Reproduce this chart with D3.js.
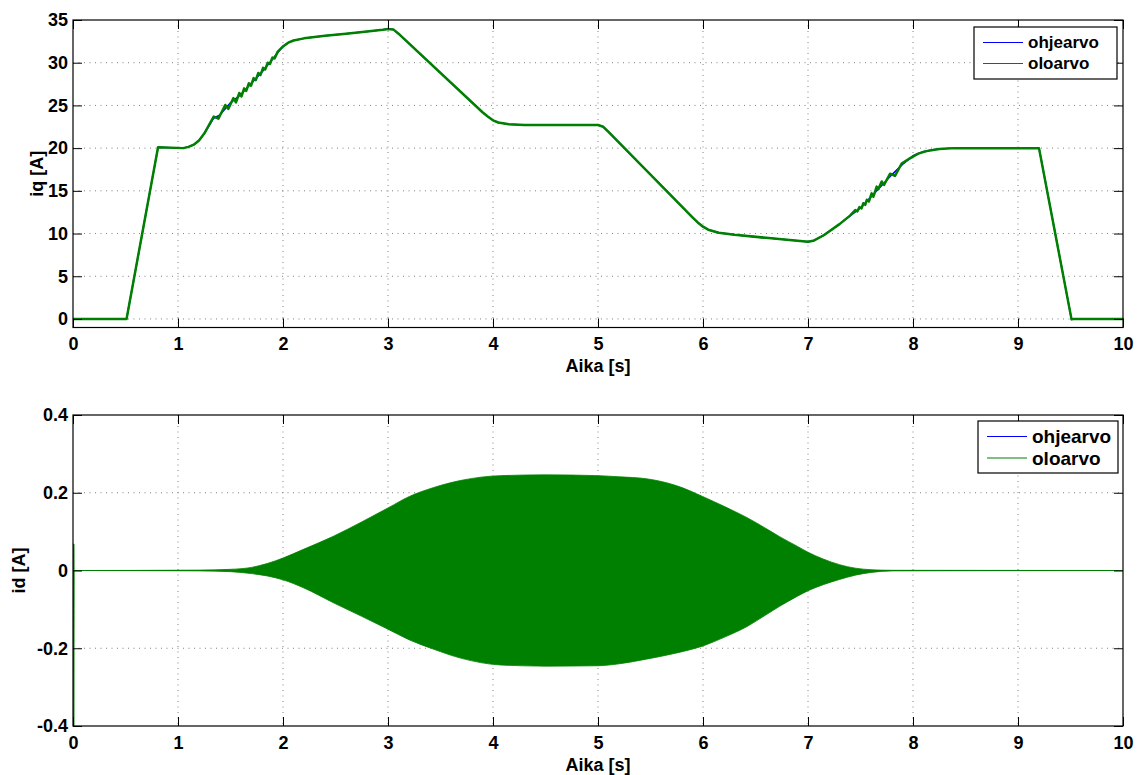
<!DOCTYPE html>
<html>
<head>
<meta charset="utf-8">
<script src="https://cdn.jsdelivr.net/npm/d3@7"></script>
<style>
	body { margin: 0; background: #fff; }
	svg { display: block; }
	svg text { font-family: 'Liberation Sans', Arial, sans-serif; font-weight: bold; fill: #000; }
	.grid line { stroke: #808080; stroke-width: 1; stroke-dasharray: 1, 4.5; }
</style>
</head>
<body>
<svg id="chart" width="1139" height="775"></svg>
<script>
// iq: ohjearvo (reference, smooth)
const iqRefTime = [0, 0.51, 0.81, 1.05, 1.1, 1.15, 1.2, 1.25, 1.3, 1.34, 1.4, 1.5, 1.6, 1.7, 1.8, 1.9, 1.95, 2.0, 2.05, 2.1, 2.2, 2.4, 2.6, 2.8, 2.95, 3.0, 3.05, 3.1,
	3.9, 3.95, 4.0, 4.05, 4.15, 4.3, 5.0, 5.05, 5.1, 5.9, 5.95, 6.0, 6.05, 6.15, 6.3, 6.6, 7.0, 7.05, 7.15, 7.3, 7.5, 7.7, 7.8, 7.9, 8.0, 8.1, 8.2, 8.35,
	9.2, 9.51, 9.53, 10];
const iqRefValue = [0, 0, 20.1, 20, 20.15, 20.4, 20.9, 21.7, 22.7, 23.5, 23.9, 25.3, 26.3, 27.6, 28.9, 30.4, 31.2, 31.9, 32.35, 32.6, 32.85, 33.15, 33.4, 33.65, 33.85, 33.95, 33.9, 33.4,
	24.2, 23.7, 23.25, 23.0, 22.8, 22.7, 22.7, 22.5, 21.9, 11.9, 11.3, 10.8, 10.45, 10.1, 9.85, 9.5, 9.05, 9.15, 9.8, 11.1, 13.0, 15.6, 16.9, 18.1, 19.1, 19.6, 19.85, 20,
	20, -0.05, 0, 0];

// iq: oloarvo (measured, with ripple)
const iqMeasTime = [0, 0.51, 0.81, 1.05, 1.1, 1.15, 1.2, 1.25, 1.3, 1.34, 1.385, 1.45, 1.48, 1.527, 1.552, 1.584, 1.605, 1.63, 1.65, 1.675, 1.695,
	1.72, 1.74, 1.765, 1.785, 1.81, 1.83, 1.855, 1.875, 1.9, 1.92, 1.95, 2.0, 2.05, 2.1, 2.2, 2.4, 2.6, 2.8, 2.95, 3.0, 3.05, 3.1,
	3.9, 3.95, 4.0, 4.05, 4.15, 4.3, 5.0, 5.05, 5.1, 5.9, 5.95, 6.0, 6.05, 6.15, 6.3, 6.6, 7.0, 7.05, 7.15, 7.3, 7.4, 7.45, 7.47, 7.49, 7.51, 7.527, 7.545,
	7.56, 7.58, 7.606, 7.622, 7.654, 7.67, 7.702, 7.724, 7.781, 7.829, 7.892, 7.97, 8.05, 8.13, 8.25, 8.4, 9.2, 9.51, 9.53, 10];
const iqMeasValue = [0, 0, 20.1, 20, 20.15, 20.4, 20.9, 21.7, 22.8, 23.7, 23.45, 25.05, 24.6, 25.85, 25.35, 26.45, 26.05, 27.0, 26.7, 27.6, 27.3,
	28.2, 27.95, 28.8, 28.55, 29.4, 29.2, 30.0, 29.85, 30.6, 30.5, 31.3, 31.9, 32.35, 32.6, 32.85, 33.15, 33.4, 33.65, 33.85, 33.95, 33.9, 33.4,
	24.2, 23.7, 23.25, 23.0, 22.8, 22.7, 22.7, 22.5, 21.9, 11.9, 11.3, 10.8, 10.45, 10.1, 9.85, 9.5, 9.05, 9.15, 9.8, 11.1, 12.1, 12.75, 12.6, 13.1, 12.95, 13.55, 13.35,
	13.95, 13.75, 14.7, 14.3, 15.5, 15.2, 16.1, 15.7, 17.0, 16.75, 18.2, 18.8, 19.35, 19.65, 19.9, 20.0, 20.0, -0.05, 0, 0];

// id: oloarvo oscillation envelope (upper / lower), ohjearvo stays at 0
const idTime = [0, 0.01, 0.012, 1.2, 1.5, 1.7, 1.85, 2.0, 2.2, 2.48, 2.75, 3.0, 3.2, 3.43, 3.7, 4.07, 4.5, 5.0, 5.2, 5.46,
	5.75, 6.0, 6.2, 6.42, 6.6, 6.73, 6.9, 7.0, 7.15, 7.3, 7.45, 7.6, 7.8, 10];
const idUpper = [0.068, 0.068, 0, 0.001, 0.003, 0.008, 0.018, 0.032, 0.055, 0.088, 0.125, 0.161, 0.19, 0.213, 0.232, 0.244, 0.246, 0.244, 0.241, 0.236,
	0.218, 0.19, 0.165, 0.136, 0.108, 0.087, 0.062, 0.047, 0.029, 0.015, 0.006, 0.002, 0.0005, 0];
const idLower = [-0.42, -0.42, 0, -0.001, -0.003, -0.008, -0.014, -0.024, -0.045, -0.083, -0.118, -0.151, -0.178, -0.202, -0.226, -0.243, -0.246, -0.245, -0.24, -0.228,
	-0.212, -0.194, -0.172, -0.144, -0.114, -0.092, -0.066, -0.052, -0.036, -0.023, -0.012, -0.005, -0.001, 0];
const idRefTime = [0, 10];
const idRefValue = [0, 0];

const xTicks = [0, 1, 2, 3, 4, 5, 6, 7, 8, 9, 10];
const iqTicks = [0, 5, 10, 15, 20, 25, 30, 35];
const idTicks = [-0.4, -0.2, 0, 0.2, 0.4];
const idTickLabels = ['-0.4', '-0.2', '0', '0.2', '0.4'];
const seriesNames = ['ohjearvo', 'oloarvo'];
const seriesColors = ['#0000ff', '#008000'];

const svg = d3.select('#chart');

//-- functions --//

function makePanel(opts) {
	let g = svg.append('g');
	let x = d3.scaleLinear().domain([0, 10]).range([opts.left, opts.right]);
	let y = d3.scaleLinear().domain(opts.yDomain).range([opts.bottom, opts.top]);

	g.append('clipPath')
		.attr('id', opts.id + '-clip')
		.append('rect')
		.attr('x', opts.left)
		.attr('y', opts.top)
		.attr('width', opts.right - opts.left)
		.attr('height', opts.bottom - opts.top);

	// grid
	let grid = g.append('g').attr('class', 'grid');
	grid.selectAll('.gx')
		.data(xTicks.slice(1, -1))
		.enter().append('line')
		.attr('x1', d => x(d)).attr('x2', d => x(d))
		.attr('y1', opts.top).attr('y2', opts.bottom);
	grid.selectAll('.gy')
		.data(opts.yTicks.filter(d => y(d) > opts.top + 1 && y(d) < opts.bottom - 1))
		.enter().append('line')
		.attr('x1', opts.left).attr('x2', opts.right)
		.attr('y1', d => y(d)).attr('y2', d => y(d));

	return { g: g, x: x, y: y, opts: opts, plot: g.append('g').attr('clip-path', 'url(#' + opts.id + '-clip)') };
}

function drawAxes(panel) {
	let { g, x, y, opts } = panel;
	let tick = 9;

	let bottom = g.append('g')
		.attr('transform', 'translate(0,' + opts.bottom + ')')
		.call(d3.axisBottom(x).tickValues(xTicks).tickSize(-tick).tickPadding(10).tickFormat(d3.format('d')));
	let left = g.append('g')
		.attr('transform', 'translate(' + opts.left + ',0)')
		.call(d3.axisLeft(y).tickValues(opts.yTicks).tickSize(-tick).tickPadding(5).tickFormat(opts.yFormat));
	let top = g.append('g')
		.attr('transform', 'translate(0,' + opts.top + ')')
		.call(d3.axisTop(x).tickValues(xTicks).tickSize(-tick).tickFormat(''));
	let right = g.append('g')
		.attr('transform', 'translate(' + opts.right + ',0)')
		.call(d3.axisRight(y).tickValues(opts.yTicks).tickSize(-tick).tickFormat(''));

	[bottom, left, top, right].forEach(a => {
		a.attr('font-family', null).attr('font-size', null);
		a.select('.domain').remove();
		a.selectAll('line').attr('stroke', '#000').attr('stroke-width', 1);
		a.selectAll('text').attr('fill', '#000').style('font-size', '18px');
	});

	// box
	g.append('rect')
		.attr('x', opts.left)
		.attr('y', opts.top)
		.attr('width', opts.right - opts.left)
		.attr('height', opts.bottom - opts.top)
		.attr('fill', 'none')
		.attr('stroke', '#000')
		.attr('stroke-width', 1.2);

	g.append('text')
		.attr('x', (opts.left + opts.right) / 2)
		.attr('y', opts.xLabelY)
		.attr('text-anchor', 'middle')
		.style('font-size', '18px')
		.text('Aika [s]');

	g.append('text')
		.attr('transform', 'translate(' + opts.yLabelX + ',' + (opts.top + opts.bottom) / 2 + ') rotate(-90)')
		.attr('text-anchor', 'middle')
		.attr('dy', '0.35em')
		.style('font-size', '18px')
		.text(opts.yLabel);
}

function drawLegend(panel, box) {
	let lg = panel.g.append('g');

	lg.append('rect')
		.attr('x', box.x)
		.attr('y', box.y)
		.attr('width', box.w)
		.attr('height', box.h)
		.attr('fill', '#fff')
		.attr('stroke', '#000')
		.attr('stroke-width', 1.2);

	seriesNames.forEach((name, i) => {
		let yy = box.y + box.rowY[i];
		lg.append('line')
			.attr('x1', box.x + 9).attr('x2', box.x + 49)
			.attr('y1', yy).attr('y2', yy)
			.attr('stroke', seriesColors[i])
			.attr('stroke-width', 1.2);
		lg.append('text')
			.attr('x', box.x + box.textX)
			.attr('y', yy)
			.attr('dy', '0.35em')
			.style('font-size', box.fontSize + 'px')
			.text(name);
	});
}

// top panel: iq
let iqPanel = makePanel({
	id: 'iq', left: 73, right: 1123, top: 20, bottom: 327.5,
	yDomain: [-1, 35], yTicks: iqTicks, yFormat: d3.format('d'),
	xLabelY: 372, yLabelX: 37, yLabel: 'iq [A]'
});

let iqLine = d3.line()
	.x(d => iqPanel.x(d[0]))
	.y(d => iqPanel.y(d[1]));

iqPanel.plot.append('path')
	.attr('d', iqLine(d3.zip(iqRefTime, iqRefValue)))
	.attr('fill', 'none')
	.attr('stroke', seriesColors[0])
	.attr('stroke-width', 1.5)
	.attr('stroke-linejoin', 'round');
iqPanel.plot.append('path')
	.attr('d', iqLine(d3.zip(iqMeasTime, iqMeasValue)))
	.attr('fill', 'none')
	.attr('stroke', seriesColors[1])
	.attr('stroke-width', 2.5)
	.attr('stroke-linejoin', 'round');

drawAxes(iqPanel);
drawLegend(iqPanel, { x: 974, y: 27, w: 143, h: 52, rowY: [15.5, 36.5], textX: 54, fontSize: 17 });

// bottom panel: id
let idPanel = makePanel({
	id: 'id', left: 73, right: 1123, top: 415, bottom: 726,
	yDomain: [-0.4, 0.4], yTicks: idTicks, yFormat: (d, i) => idTickLabels[i],
	xLabelY: 771, yLabelX: 19, yLabel: 'id [A]'
});

let idRefLine = d3.line()
	.x(d => idPanel.x(d[0]))
	.y(d => idPanel.y(d[1]));
let idArea = d3.area()
	.x(d => idPanel.x(d[0]))
	.y0(d => idPanel.y(d[2]))
	.y1(d => idPanel.y(d[1]))
	.curve(d3.curveMonotoneX);

idPanel.plot.append('path')
	.attr('d', idRefLine(d3.zip(idRefTime, idRefValue)))
	.attr('fill', 'none')
	.attr('stroke', seriesColors[0])
	.attr('stroke-width', 1.2);
idPanel.plot.append('path')
	.attr('d', idArea(d3.zip(idTime, idUpper, idLower)))
	.attr('fill', seriesColors[1])
	.attr('stroke', seriesColors[1])
	.attr('stroke-width', 0.8);
idPanel.plot.append('path')
	.attr('d', idRefLine(d3.zip(idRefTime, idRefValue)))
	.attr('fill', 'none')
	.attr('stroke', seriesColors[1])
	.attr('stroke-width', 1)
	.attr('opacity', 0.7);

drawAxes(idPanel);
drawLegend(idPanel, { x: 978, y: 421, w: 140, h: 52, rowY: [15.5, 37], textX: 54, fontSize: 19 });
</script>
</body>
</html>
